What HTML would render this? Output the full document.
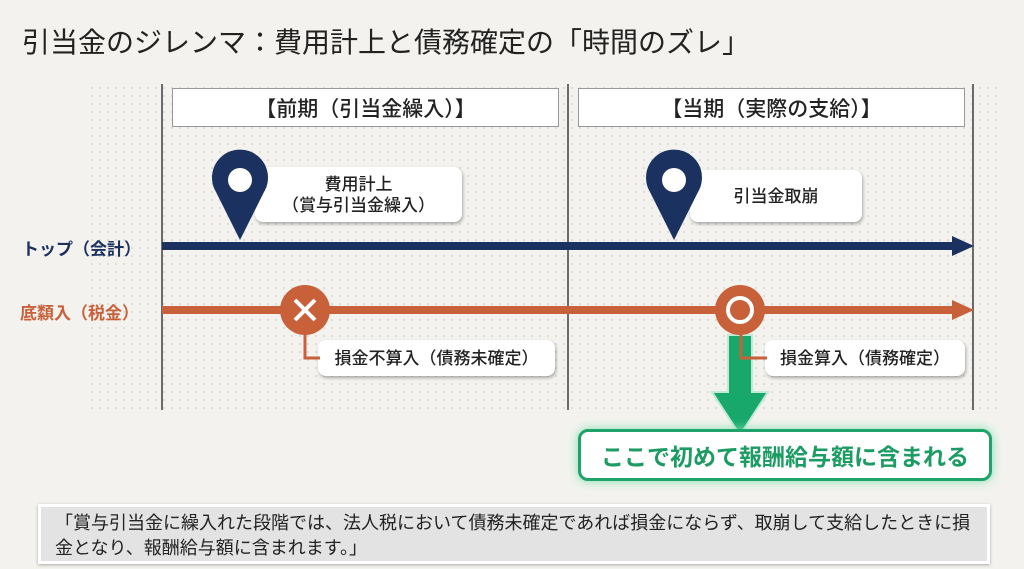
<!DOCTYPE html>
<html><head><meta charset="utf-8">
<style>
body{margin:0;width:1024px;height:569px;overflow:hidden;background:#f3f2ee;font-family:"Liberation Sans","Noto Sans CJK JP",sans-serif;position:relative}
.a{position:absolute}
.grid{left:88px;top:84px;width:915px;height:330px;background-image:radial-gradient(circle,#cfcdc7 0.7px,transparent 1px);background-size:8px 8px}
.vl{width:2px;background:#6b6b6b;top:84px;height:326px}
.hd{top:88px;height:39px;background:#fff;border:1px solid #999;box-sizing:border-box;font-size:21px;display:flex;align-items:center;justify-content:center;color:#222;font-weight:500}
.lb{background:#fff;border-radius:8px;box-shadow:1px 2px 3px rgba(0,0,0,.3);display:flex;align-items:center;justify-content:center;text-align:center;color:#222;font-size:16px;line-height:21px;font-weight:500}
</style></head><body>
<div class="a" style="left:22px;top:21px;font-size:28px;color:#222;white-space:nowrap">引当金のジレンマ：費用計上と債務確定の「時間のズレ」</div>
<div class="a grid"></div>
<div class="a vl" style="left:161px"></div>
<div class="a vl" style="left:567px"></div>
<div class="a vl" style="left:972px"></div>
<div class="a hd" style="left:172px;width:387px">【前期（引当金繰入）】</div>
<div class="a hd" style="left:578px;width:387px">【当期（実際の支給）】</div>
<div class="a" style="left:22px;top:235px;font-size:17px;font-weight:bold;color:#1b3160">トップ（会計）</div>
<div class="a" style="left:20px;top:299px;font-size:17px;font-weight:bold;color:#c8603a">底纇入（税金）</div>
<div class="a lb" style="left:255px;top:167px;width:207px;height:55px;font-size:17px">費用計上<br>（賞与引当金繰入）</div>
<div class="a lb" style="left:690px;top:170px;width:172px;height:52px;font-size:17px">引当金取崩</div>
<div class="a lb" style="left:318px;top:340px;width:237px;height:36px;font-size:17px">損金不算入（債務未確定）</div>
<div class="a lb" style="left:765px;top:340px;width:200px;height:36px;font-size:17px">損金算入（債務確定）</div>
<svg class="a" style="left:0;top:0" width="1024" height="569">
<line x1="162" y1="246" x2="955" y2="246" stroke="#1b3160" stroke-width="8"/>
<polygon points="952,236 974,246 952,256" fill="#1b3160"/>
<line x1="162" y1="310" x2="955" y2="310" stroke="#c8603a" stroke-width="8"/>
<polygon points="952,300 974,310 952,320" fill="#c8603a"/>
<path d="M240,240 L216,192 A28,28 0 1 1 264,192 Z" fill="#1b3160"/>
<circle cx="240" cy="180" r="12" fill="#fff"/>
<path d="M674,240 L650,192 A28,28 0 1 1 698,192 Z" fill="#1b3160"/>
<circle cx="674" cy="180" r="12" fill="#fff"/>
<polyline points="305,330 305,358 320,358" fill="none" stroke="#c8603a" stroke-width="3"/>
<circle cx="305" cy="310" r="25" fill="#c8603a"/>
<path d="M295,300 L315,320 M315,300 L295,320" stroke="#fff" stroke-width="4"/>
<path d="M728,335 L728,392 L712,392 L740,435 L768,392 L752,392 L752,335 Z" fill="#19a86c" stroke="#bfead6" stroke-width="2"/>
<polyline points="741,330 741,358 767,358" fill="none" stroke="#c8603a" stroke-width="3"/>
<circle cx="740" cy="310" r="25" fill="#c8603a"/>
<circle cx="740" cy="310" r="12" fill="none" stroke="#fff" stroke-width="4"/>
</svg>
<div class="a" style="left:578px;top:429px;width:414px;height:52px;box-sizing:border-box;border:3px solid #1fa36b;border-radius:10px;background:#fff;box-shadow:0 0 10px #7fe0b0;display:flex;align-items:center;justify-content:center;color:#1c9b63;font-size:23px;font-weight:bold">ここで初めて報酬給与額に含まれる</div>
<div class="a" style="left:38px;top:504px;width:952px;height:60px;box-sizing:border-box;background:#e3e3e3;border:3px solid #fff;box-shadow:0 1px 3px rgba(0,0,0,.3);padding:4px 14px;font-size:18px;line-height:25px;color:#222">「賞与引当金に繰入れた段階では、法人税において債務未確定であれば損金にならず、取崩して支給したときに損金となり、報酬給与額に含まれます。」</div>
</body></html>
